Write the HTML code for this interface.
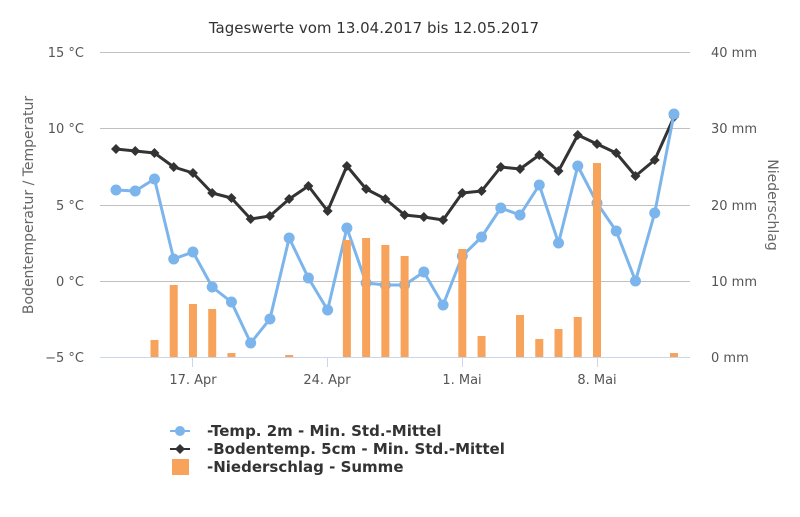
<!DOCTYPE html>
<html><head><meta charset="utf-8"><style>
body{margin:0;background:#fff;}
svg text{font-family:"DejaVu Sans","Liberation Sans",sans-serif;}
</style></head><body>
<svg id="s" width="800" height="512" xmlns="http://www.w3.org/2000/svg">
<rect width="800" height="512" fill="#fff"/>
<text x="374" y="33" text-anchor="middle" font-size="15" fill="#333">Tageswerte vom 13.04.2017 bis 12.05.2017</text>
<g stroke="#c0c0c0" stroke-width="1">
<line x1="100" y1="52.5" x2="690" y2="52.5"/>
<line x1="100" y1="128.5" x2="690" y2="128.5"/>
<line x1="100" y1="205.5" x2="690" y2="205.5"/>
<line x1="100" y1="281.5" x2="690" y2="281.5"/>
</g>
<line x1="100" y1="357.5" x2="690" y2="357.5" stroke="#ccd6eb"/>
<g stroke="#ccd6eb"><line x1="192.5" y1="357" x2="192.5" y2="367"/><line x1="327.5" y1="357" x2="327.5" y2="367"/><line x1="462.5" y1="357" x2="462.5" y2="367"/><line x1="597.5" y1="357" x2="597.5" y2="367"/></g>
<g font-size="13" fill="#555" text-anchor="end">
<text x="84" y="57">15 °C</text><text x="84" y="133">10 °C</text><text x="84" y="210">5 °C</text><text x="84" y="286">0 °C</text><text x="84" y="362">−5 °C</text>
</g>
<g font-size="13" fill="#555" text-anchor="start">
<text x="711" y="57">40 mm</text><text x="711" y="133">30 mm</text><text x="711" y="210">20 mm</text><text x="711" y="286">10 mm</text><text x="711" y="362">0 mm</text>
</g>
<g font-size="13" fill="#555" text-anchor="middle">
<text x="193" y="384">17. Apr</text><text x="327" y="384">24. Apr</text><text x="462" y="384">1. Mai</text><text x="597" y="384">8. Mai</text>
</g>
<text transform="translate(33,205) rotate(-90)" text-anchor="middle" font-size="14" fill="#666">Bodentemperatur / Temperatur</text>
<text transform="translate(768,205) rotate(90)" text-anchor="middle" font-size="14" fill="#666">Niederschlag</text>
<g id="series"></g>
<g font-size="15" font-weight="bold" fill="#333">
<line x1="170" y1="431" x2="190" y2="431" stroke="#7cb5ec" stroke-width="2"/><circle cx="180" cy="431" r="5" fill="#7cb5ec"/>
<text x="207" y="436">-Temp. 2m - Min. Std.-Mittel</text>
<line x1="170" y1="449" x2="190" y2="449" stroke="#333" stroke-width="2"/><path d="M180 444 L185 449 L180 454 L175 449Z" fill="#333"/>
<text x="207" y="454">-Bodentemp. 5cm - Min. Std.-Mittel</text>
<rect x="172" y="459" width="17" height="16" fill="#f7a35c"/>
<text x="207" y="472">-Niederschlag - Summe</text>
</g>
</svg>
<script>
var xs=[];for(var i=0;i<30;i++)xs.push(116+i*19.24);
var blue=[190,191,179,259,252,287,302,343,319,238,278,310,228,283,285,285,272,305,256,237,208,215,185,243,166,203,231,281,213,114];
var blk=[149,151,153,167,173,193,198,219,216,199,186,211,166,189,199,215,217,220,193,191,167,169,155,171,135,144,153,176,160,117];
var bars={2:340,3:285,4:304,5:309,6:353,9:355,12:240,13:238,14:245,15:256,18:249,19:336,21:315,22:339,23:329,24:317,25:163,29:353};
var h='';
function pl(a,c){var p=a.map(function(y,i){return xs[i].toFixed(1)+','+y}).join(' ');return '<polyline points="'+p+'" fill="none" stroke="'+c+'" stroke-width="3" stroke-linejoin="round"/>';}
h+=pl(blk,'#333');
blk.forEach(function(y,i){var x=xs[i];h+='<path d="M'+x+' '+(y-5)+' L'+(x+5)+' '+y+' L'+x+' '+(y+5)+' L'+(x-5)+' '+y+'Z" fill="#333"/>';});
h+=pl(blue,'#7cb5ec');
blue.forEach(function(y,i){h+='<circle cx="'+xs[i]+'" cy="'+y+'" r="5.5" fill="#7cb5ec"/>';});
for(var k in bars){var x=xs[k];h+='<rect x="'+(x-4)+'" y="'+bars[k]+'" width="8" height="'+(357-bars[k])+'" fill="#f7a35c"/>';}
document.getElementById('series').innerHTML=h;
</script>
</body></html>
